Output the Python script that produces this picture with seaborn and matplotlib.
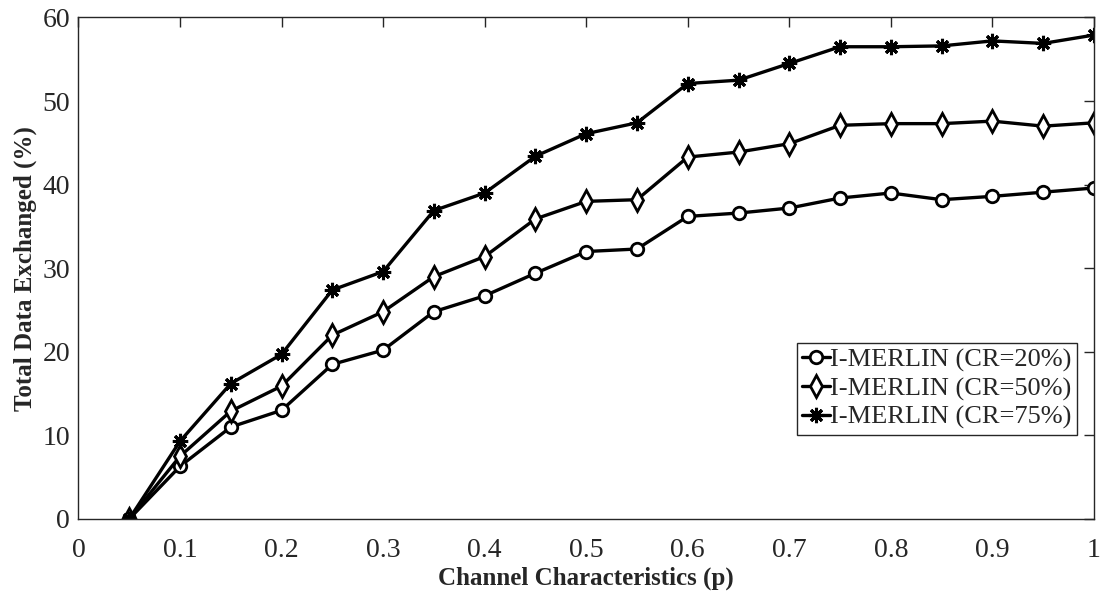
import numpy as np
import pandas as pd
import matplotlib
matplotlib.use("Agg")
import matplotlib.pyplot as plt
import seaborn as sns

p = [0.05, 0.1, 0.15, 0.2, 0.25, 0.3, 0.35, 0.4, 0.45, 0.5,
     0.55, 0.6, 0.65, 0.7, 0.75, 0.8, 0.85, 0.9, 0.95, 1.0]
cr20 = [0, 6.3, 11.0, 13.0, 18.5, 20.2, 24.8, 26.7, 29.4, 32.0,
        32.3, 36.2, 36.6, 37.2, 38.4, 39.0, 38.2, 38.6, 39.1, 39.6]
cr50 = [0, 7.5, 12.9, 15.9, 22.0, 24.8, 29.0, 31.4, 35.9, 38.0,
        38.2, 43.3, 43.9, 44.9, 47.1, 47.3, 47.3, 47.6, 47.0, 47.4]
cr75 = [0, 9.3, 16.2, 19.7, 27.4, 29.6, 36.9, 39.0, 43.4, 46.1,
        47.4, 52.1, 52.5, 54.5, 56.5, 56.5, 56.6, 57.2, 56.9, 57.9]
labels = ["I-MERLIN (CR=20%)", "I-MERLIN (CR=50%)", "I-MERLIN (CR=75%)"]

sns.set_style("white")
plt.rcParams['font.family'] = ['Liberation Serif', 'DejaVu Serif']

fig = plt.figure(figsize=(11.05, 5.97), dpi=100)
ax = fig.add_axes([0.071, 0.1307, 0.919, 0.84])

styles = [
    dict(marker='o', markersize=9, markerfacecolor='white', markeredgecolor='black', markeredgewidth=2),
    dict(marker='d', markersize=11, markerfacecolor='white', markeredgecolor='black', markeredgewidth=2),
    dict(marker=(8, 2, 0), markersize=11, markerfacecolor='black', markeredgecolor='black', markeredgewidth=2.2),
]
for ys, lab, st in zip([cr20, cr50, cr75], labels, styles):
    df = pd.DataFrame({"p": p, "v": ys})
    sns.lineplot(data=df, x="p", y="v", ax=ax, color='black', linewidth=2.4,
                 label=lab, **st)

ax.set_xlim(0, 1)
ax.set_ylim(0, 60)
ax.set_xticks(np.arange(0, 1.01, 0.1))
ax.set_xticklabels(["0", "0.1", "0.2", "0.3", "0.4", "0.5", "0.6", "0.7", "0.8", "0.9", "1"])
ax.set_yticks(np.arange(0, 61, 10))
ax.tick_params(direction='in', length=7, width=1, colors='#262626', labelsize=20,
               top=True, right=True)
ax.tick_params(axis='x', pad=14)
ax.tick_params(axis='y', pad=6)
for sp in ax.spines.values():
    sp.set_visible(True)
    sp.set_color('#262626')
    sp.set_linewidth(1)
ax.set_xlabel("Channel Characteristics (p)", fontsize=18, fontweight='bold', labelpad=2)
ax.set_ylabel("Total Data Exchanged (%)", fontsize=18, fontweight='bold', labelpad=4)

leg = ax.legend(loc='lower right', bbox_to_anchor=(0.983, 0.168), fontsize=19,
                frameon=True, fancybox=False, framealpha=1, edgecolor='#262626',
                handlelength=1.05, handletextpad=0.0, borderpad=0.2, labelspacing=0.18,
                borderaxespad=0)
leg.get_frame().set_linewidth(1)

fig.savefig("out.png", dpi=100)
